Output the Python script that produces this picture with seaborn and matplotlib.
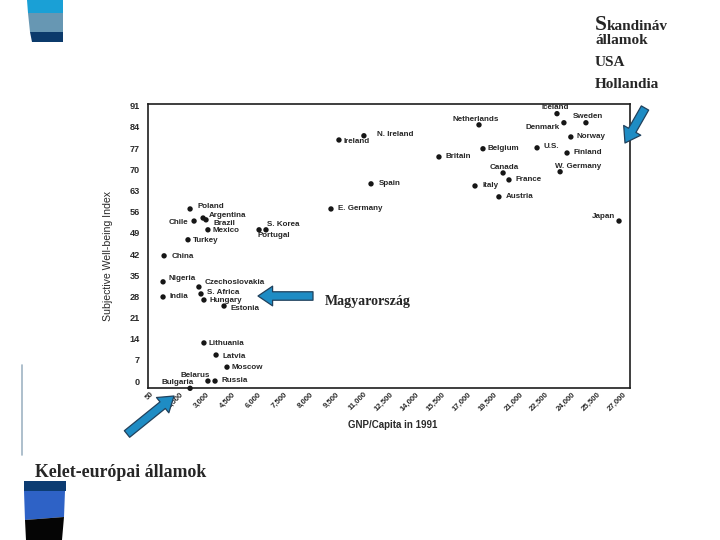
import matplotlib
matplotlib.use("Agg")
import matplotlib.pyplot as plt
import seaborn as sns
import pandas as pd
import numpy as np
from matplotlib.patches import FancyArrowPatch, Polygon
from matplotlib.lines import Line2D

# ---------------- data ----------------
countries = ["Iceland", "Sweden", "Denmark", "Norway", "Finland", "U.S.", "Belgium",
             "Netherlands", "Canada", "France", "Italy", "Austria", "W. Germany", "Japan",
             "Britain", "N. Ireland", "Ireland", "Spain", "E. Germany", "S. Korea",
             "Portugal", "Poland", "Argentina", "Brazil", "Chile", "Mexico", "Turkey",
             "China", "Nigeria", "India", "Czechoslovakia", "S. Africa", "Hungary",
             "Estonia", "Lithuania", "Latvia", "Moscow", "Belarus", "Russia", "Bulgaria"]
gnp = [23500, 25170, 23900, 24300, 24080, 22350, 19230,
       19000, 20390, 20730, 18770, 20150, 23680, 27080,
       16690, 12360, 10920, 12770, 10460, 6710,
       6310, 2330, 3080, 3250, 2560, 3360, 2210,
       830, 770, 770, 2840, 2960, 3130,
       4290, 3130, 3830, 4460, 3360, 3770, 2330]
swb = [88.4, 85.4, 85.4, 80.7, 75.4, 77.1, 76.8,
       84.7, 68.8, 66.5, 64.5, 60.9, 69.2, 52.9,
       74.1, 81.1, 79.7, 65.2, 56.9, 50.0,
       50.0, 56.9, 53.9, 53.3, 52.9, 50.0, 46.7,
       41.4, 32.8, 27.8, 31.1, 28.8, 26.8,
       24.8, 12.6, 8.6, 4.6, 0.0, 0.0, -2.4]
x_tick_labels = ["50", "1,500", "3,000", "4,500", "6,000", "7,500", "8,000", "9,500",
                 "11,000", "12,500", "14,000", "15,500", "17,000", "19,500", "21,000",
                 "22,500", "24,000", "25,500", "27,000"]
x_tick_step = 1500
y_ticks = [0, 7, 14, 21, 28, 35, 42, 49, 56, 63, 70, 77, 84, 91]

# label placement (offset in pixels from the dot, horizontal alignment)
label_style = {
    "Iceland": (-2, 6, "center"), "Sweden": (2, 6, "center"), "Denmark": (-21, -5, "center"),
    "Norway": (6, 0, "left"), "Finland": (6, 0, "left"), "U.S.": (6, 1, "left"),
    "Belgium": (5, 0, "left"), "Netherlands": (-3, 5, "center"), "Canada": (1, 5, "center"),
    "France": (7, 0, "left"), "Italy": (7, 0, "left"), "Austria": (7, 0, "left"),
    "W. Germany": (-5, 5, "left"), "Japan": (-16, 5, "center"), "Britain": (7, 0, "left"),
    "N. Ireland": (13, 1, "left"), "Ireland": (5, -2, "left"), "Spain": (8, 0, "left"),
    "E. Germany": (7, 0, "left"), "S. Korea": (1, 5, "left"), "Portugal": (-2, -6, "left"),
    "Poland": (7, 2, "left"), "Argentina": (6, 3, "left"), "Brazil": (7, -4, "left"),
    "Chile": (-6, -1, "right"), "Mexico": (5, -1, "left"), "Turkey": (5, -1, "left"),
    "China": (8, -1, "left"), "Nigeria": (5, 3, "left"), "India": (6, 0, "left"),
    "Czechoslovakia": (6, 4, "left"), "S. Africa": (6, 1, "left"), "Hungary": (6, -1, "left"),
    "Estonia": (6, -2, "left"), "Lithuania": (5, -1, "left"), "Latvia": (6, -1, "left"),
    "Moscow": (5, 0, "left"), "Belarus": (-13, 6, "center"), "Russia": (6, 1, "left"),
    "Bulgaria": (-12, 6, "center"),
}

sns.set_theme(style="white")
plt.rcParams["font.family"] = ["Liberation Sans", "DejaVu Sans"]

W, H = 720, 540
fig = plt.figure(figsize=(7.2, 5.4), dpi=100)
fig.patch.set_facecolor("white")


def fx(px):
    return px / W


def fy(py):
    return 1 - py / H


ax = fig.add_axes([fx(148), fy(388), fx(630) - fx(148), fy(104) - fy(388)])
df = pd.DataFrame({"country": countries, "gnp": gnp, "swb": swb})
sns.scatterplot(data=df, x="gnp", y="swb", ax=ax, color="#161616", s=15,
                edgecolor="none", linewidth=0, legend=False, zorder=3, clip_on=False)

for c, xv, yv in zip(countries, gnp, swb):
    dx, dy, ha = label_style[c]
    ax.annotate(c, (xv, yv), xytext=(dx, dy), textcoords="offset pixels",
                ha=ha, va="center", fontsize=5.8, fontweight="bold", color="#262626")

ax.set_xlim(-98, 27713)
ax.set_ylim(-2.3, 91.6)
ax.set_xticks(np.arange(len(x_tick_labels)) * x_tick_step)
ax.set_xticklabels(x_tick_labels, rotation=45, ha="center", fontsize=5.6,
                   fontweight="bold", color="#2a2a2a")
ax.set_yticks(y_ticks)
ax.set_yticklabels([str(v) for v in y_ticks], fontsize=6.6, fontweight="bold", color="#2a2a2a")
ax.tick_params(axis="y", direction="in", length=6, width=1, pad=6, color="#222")
ax.tick_params(axis="x", direction="in", length=3.5, width=1, pad=2, color="#222")
for sp in ax.spines.values():
    sp.set_visible(True)
    sp.set_color("#1e1e1e")
    sp.set_linewidth(1.2)
ax.set_facecolor("white")
ax.grid(False)

ax.set_ylabel("Subjective Well-being Index", fontsize=7.6,
              family=["Liberation Sans Narrow", "Liberation Sans", "DejaVu Sans"], color="#2a2a2a")
ax.yaxis.set_label_coords(-0.073, 0.465)
ax.set_xlabel("GNP/Capita in 1991", fontsize=7.0, fontweight="bold", color="#2a2a2a")
ax.xaxis.set_label_coords(0.508, -0.113)

# ---------------- slide annotations ----------------
serif = ["Liberation Serif", "DejaVu Serif"]
fig.text(fx(595), fy(30), "S", fontsize=15.5, fontweight="bold", family=serif, va="baseline")
fig.text(fx(607), fy(30), "kandináv", fontsize=11, fontweight="bold", family=serif, va="baseline")
fig.text(fx(595), fy(44), "államok", fontsize=11, fontweight="bold", family=serif, va="baseline")
fig.text(fx(595), fy(66), "USA", fontsize=11, fontweight="bold", family=serif, va="baseline")
fig.text(fx(595), fy(88), "Hollandia", fontsize=11, fontweight="bold", family=serif, va="baseline")
fig.text(fx(325), fy(305), "Magyarország", fontsize=10, fontweight="bold", family=serif, va="baseline")
fig.text(fx(35), fy(477), "Kelet-európai államok", fontsize=12.8, fontweight="bold",
         family=serif, va="baseline")

# arrows
arrow_fill = "#1e8cc4"
arrow_edge = "#21415c"
for (x0, y0), (x1, y1) in [((645, 108), (625, 143)), ((313, 296), (258, 296)),
                           ((127, 434), (174, 396))]:
    fig.add_artist(FancyArrowPatch((fx(x0), fy(y0)), (fx(x1), fy(y1)),
                                   transform=fig.transFigure,
                                   arrowstyle="simple,head_length=1.0,head_width=1.35,tail_width=0.58",
                                   mutation_scale=10.5, shrinkA=0, shrinkB=0,
                                   facecolor=arrow_fill, edgecolor=arrow_edge, linewidth=0.9))

# slide decoration blocks
def block(pts, color):
    fig.add_artist(Polygon([(fx(a), fy(b)) for a, b in pts], closed=True,
                           transform=fig.transFigure, facecolor=color, edgecolor="none"))

block([(27, 0), (63, 0), (63, 13), (28, 13)], "#1aa0d6")
block([(28, 13), (63, 13), (63, 32), (30, 32)], "#6797b3")
block([(30, 32), (63, 32), (63, 42), (32, 42)], "#0b3a6b")
block([(24, 481), (66, 481), (66, 491), (24, 491)], "#0c3c72")
block([(24, 491), (65, 491), (64, 517), (25, 520)], "#2e62c6")
block([(25, 520), (64, 517), (62, 540), (26, 540)], "#050505")
fig.add_artist(Line2D([fx(22), fx(22)], [fy(365), fy(455)], transform=fig.transFigure,
                      color="#9fb4c4", linewidth=1.2))

fig.savefig("out.png", dpi=100, facecolor="white")
